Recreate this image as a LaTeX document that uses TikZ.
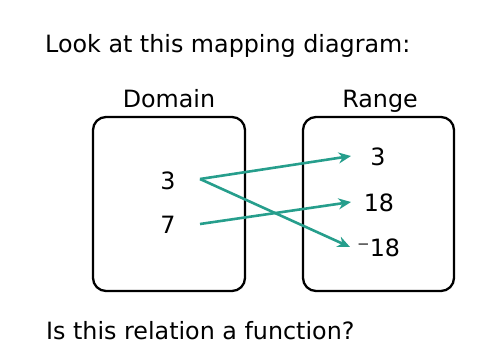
\documentclass[tikz,border=0pt]{standalone}
\usepackage{fontspec}
\setmainfont{DejaVu Sans}
\usetikzlibrary{arrows.meta}
\definecolor{teal1}{RGB}{38,158,140}
\begin{document}
\begin{tikzpicture}[x=1pt,y=-1pt,
  txt/.style={font=\fontsize{23.8}{28}\selectfont, inner sep=0pt},
  setbox/.style={draw=black, line width=2.3pt, rounded corners=13pt},
  maparrow/.style={draw=teal1, line width=2.6pt, -{Stealth[length=12.5pt,width=11pt,inset=4pt]}}]
\useasboundingbox (0,0) rectangle (498,360);
\node[txt, anchor=base west] (title) at (45,52) {Look at this mapping diagram:};
\node[txt, anchor=base] (dom) at (169,107) {Domain};
\node[txt, anchor=base] (ran) at (380,107) {Range};
\draw[setbox] (93,117) rectangle (245,291);
\draw[setbox] (303,117) rectangle (454,291);
\node[txt] (d3) at (168,180.5) {3};
\node[txt] (d7) at (168,224.5) {7};
\node[txt] (r3) at (378,157) {3};
\node[txt] (r18) at (379,202.5) {18};
\node[txt, anchor=west] (rm18) at (357,247.5) {⁻18};
\coordinate (s3) at (200,179);
\coordinate (s7) at (200,224);
\coordinate (e3) at (351,156);
\coordinate (e18) at (351,202);
\coordinate (em18) at (350,247);
\draw[maparrow] (s3) -- (e3);
\draw[maparrow] (s3) -- (em18);
\draw[maparrow] (s7) -- (e18);
\node[txt, anchor=base west] (q) at (46,339) {Is this relation a function?};
\end{tikzpicture}
\end{document}
